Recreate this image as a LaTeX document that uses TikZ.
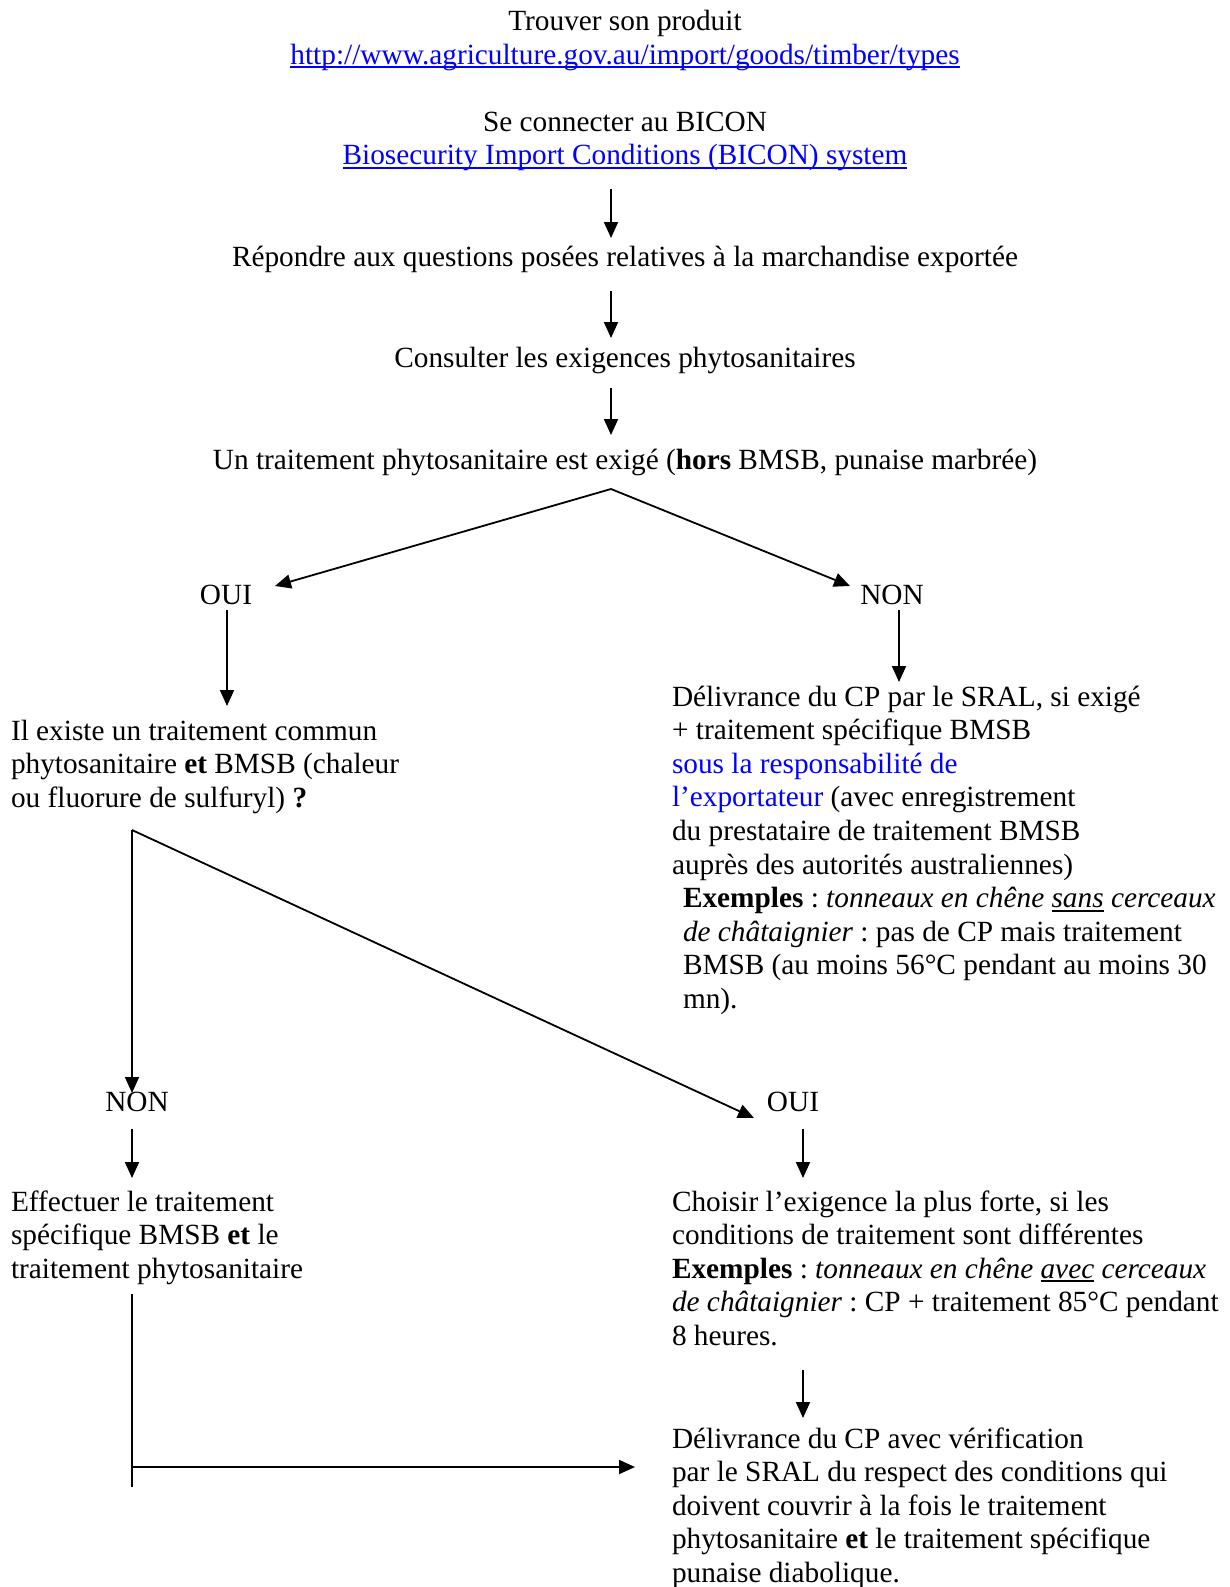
\documentclass[tikz,border=0pt]{standalone}
\usepackage{fontspec}
\setmainfont{Liberation Serif}
\usetikzlibrary{arrows.meta}
\definecolor{linkblue}{RGB}{0,0,255}
\newsavebox\myulbox
\newcommand\myul[1]{\sbox\myulbox{#1}\rlap{\rule[-4pt]{\wd\myulbox}{1.8pt}}\usebox\myulbox}
\newcommand\blk[1]{\begin{tabular}[t]{@{}l@{}}#1\end{tabular}}
\frenchspacing
\begin{document}
\begin{tikzpicture}[x=1pt,y=-1pt,
  every node/.style={inner sep=0pt, outer sep=0pt, font=\fontsize{29.3}{33.6}\selectfont\frenchspacing},
  arr/.style={-{Triangle[length=16pt,width=14pt]}, line width=1.8pt},
  ln/.style={line width=1.8pt}]
\useasboundingbox (0,0) rectangle (1229,1587);
% texts
\node[anchor=base] (t1) at (625,30.5) {Trouver son produit};
\node[anchor=base] (url) at (625,64.1) {\color{linkblue}\myul{http://www.agriculture.gov.au/import/goods/timber/types}};
\node[anchor=base] (bicon) at (625,131.3) {Se connecter au BICON};
\node[anchor=base] (biconlink) at (625,164.9) {\color{linkblue}\myul{Biosecurity Import Conditions (BICON) system}};
\node[anchor=base] (rep) at (625,266) {Répondre aux questions posées relatives à la marchandise exportée};
\node[anchor=base] (cons) at (625,367) {Consulter les exigences phytosanitaires};
\node[anchor=base] (trait) at (625,469) {Un traitement phytosanitaire est exigé (\textbf{hors} BMSB, punaise marbrée)};
\node[anchor=base] (oui1) at (226,604) {OUI};
\node[anchor=base] (non1) at (892,604) {NON};
\node[anchor=base west] (commun) at (11,740) {\blk{Il existe un traitement commun\\ phytosanitaire \textbf{et} BMSB (chaleur\\ ou fluorure de sulfuryl) \textbf{?}}};
\node[anchor=base west] (deliv1) at (672,706) {\blk{Délivrance du CP par le SRAL, si exigé\\
+ traitement spécifique BMSB\\
{\color{linkblue}sous la responsabilité de}\\
{\color{linkblue}l’exportateur} (avec enregistrement\\
du prestataire de traitement BMSB\\
auprès des autorités australiennes)\\
\hspace*{11pt}\textbf{Exemples} : \textit{tonneaux en chêne \myul{sans} cerceaux}\\
\hspace*{11pt}\textit{de châtaignier} : pas de CP mais traitement\\
\hspace*{11pt}BMSB (au moins 56°C pendant au moins 30\\
\hspace*{11pt}mn).}};
\node[anchor=base] (non2) at (137,1111) {NON};
\node[anchor=base] (oui2) at (793,1111) {OUI};
\node[anchor=base west] (effect) at (11,1211) {\blk{Effectuer le traitement\\ spécifique BMSB \textbf{et} le\\ traitement phytosanitaire}};
\node[anchor=base west] (choisir) at (672,1211) {\blk{Choisir l’exigence la plus forte, si les\\
conditions de traitement sont différentes\\
\textbf{Exemples} : \textit{tonneaux en chêne \myul{avec} cerceaux}\\
\textit{de châtaignier} : CP + traitement 85°C pendant\\
8 heures.}};
\node[anchor=base west] (deliv2) at (672,1448) {\blk{Délivrance du CP avec vérification\\
par le SRAL du respect des conditions qui\\
doivent couvrir à la fois le traitement\\
phytosanitaire \textbf{et} le traitement spécifique\\
punaise diabolique.}};
% connector end points
\coordinate (a1s) at (611,189); \coordinate (a1e) at (611,238);
\coordinate (a2s) at (611,291); \coordinate (a2e) at (611,338);
\coordinate (a3s) at (611,388); \coordinate (a3e) at (611,435);
\coordinate (split1) at (611,489);
\coordinate (ouitip) at (275,586); \coordinate (nontip) at (850,586);
\coordinate (oui1s) at (227,610); \coordinate (oui1e) at (227,706);
\coordinate (non1s) at (899,610); \coordinate (non1e) at (899,682);
\coordinate (split2) at (132,830);
\coordinate (non2tip) at (132,1093); \coordinate (oui2tip) at (754,1118);
\coordinate (non2s) at (132,1129); \coordinate (non2e) at (132,1178);
\coordinate (oui2s) at (803,1129); \coordinate (oui2e) at (803,1178);
\coordinate (ch1) at (803,1370); \coordinate (ch2) at (803,1418);
\coordinate (ef1) at (132,1294); \coordinate (ef2) at (132,1487);
\coordinate (hz1) at (132,1467); \coordinate (hz2) at (635,1467);
% connectors
\draw[arr] (a1s) -- (a1e);
\draw[arr] (a2s) -- (a2e);
\draw[arr] (a3s) -- (a3e);
\draw[arr] (split1) -- (ouitip);
\draw[arr] (split1) -- (nontip);
\draw[arr] (oui1s) -- (oui1e);
\draw[arr] (non1s) -- (non1e);
\draw[arr] (split2) -- (non2tip);
\draw[arr] (split2) -- (oui2tip);
\draw[arr] (non2s) -- (non2e);
\draw[arr] (oui2s) -- (oui2e);
\draw[arr] (ch1) -- (ch2);
\draw[ln] (ef1) -- (ef2);
\draw[arr] (hz1) -- (hz2);
\end{tikzpicture}
\end{document}
